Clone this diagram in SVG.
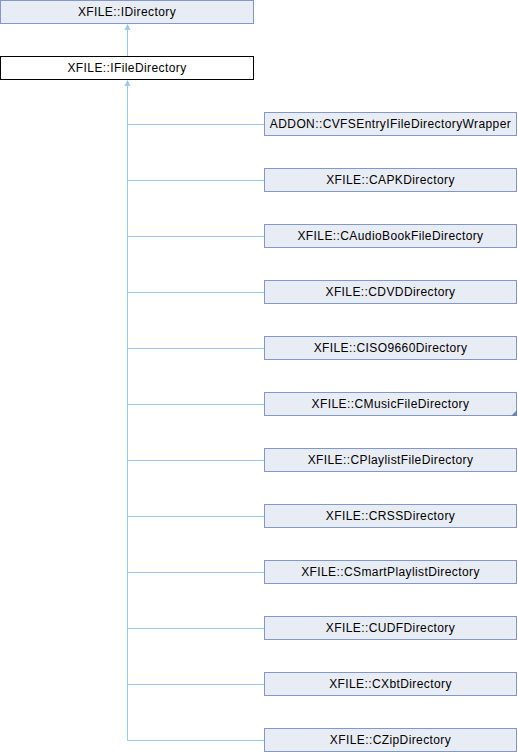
<svg xmlns="http://www.w3.org/2000/svg" width="518" height="752" viewBox="0 0 518 752">
<style>
.n rect{fill:#E8ECF5;stroke:#8398C6;stroke-width:1}
.cur rect{fill:#FFFFFF;stroke:#000000;stroke-width:1}
text{font-family:"Liberation Sans",Arial,sans-serif;font-size:12px;letter-spacing:0.4px;fill:#000;text-anchor:middle}
.e{stroke:#9BCAE8;stroke-width:1;fill:none}
.ah{fill:#9BCAE8}
</style>
<rect width="518" height="752" fill="#fff"/>
<g id="connectors">
<path class="e" d="M127.5 29V56"/>
<polygon class="ah" points="127.5,24 124.5,30 130.5,30"/>
<path class="e" d="M127.5 85V740.5H264"/>
<polygon class="ah" points="127.5,80 124.5,86 130.5,86"/>
<path class="e" d="M127.5 124.5H264M127.5 180.5H264M127.5 236.5H264M127.5 292.5H264M127.5 348.5H264M127.5 404.5H264M127.5 460.5H264M127.5 516.5H264M127.5 572.5H264M127.5 628.5H264M127.5 684.5H264"/>
</g>
<g id="IDirectory" class="n"><rect x="0.5" y="0.5" width="253" height="23"/><text x="127" y="16">XFILE::IDirectory</text></g>
<g id="IFileDirectory" class="cur"><rect x="0.5" y="56.5" width="253" height="23"/><text x="127" y="72">XFILE::IFileDirectory</text></g>
<g id="CVFSEntryIFileDirectoryWrapper" class="n"><rect x="264.5" y="112.5" width="252" height="23"/><text x="390.5" y="128">ADDON::CVFSEntryIFileDirectoryWrapper</text></g>
<g id="CAPKDirectory" class="n"><rect x="264.5" y="168.5" width="252" height="23"/><text x="390.5" y="184">XFILE::CAPKDirectory</text></g>
<g id="CAudioBookFileDirectory" class="n"><rect x="264.5" y="224.5" width="252" height="23"/><text x="390.5" y="240">XFILE::CAudioBookFileDirectory</text></g>
<g id="CDVDDirectory" class="n"><rect x="264.5" y="280.5" width="252" height="23"/><text x="390.5" y="296">XFILE::CDVDDirectory</text></g>
<g id="CISO9660Directory" class="n"><rect x="264.5" y="336.5" width="252" height="23"/><text x="390.5" y="352">XFILE::CISO9660Directory</text></g>
<g id="CMusicFileDirectory" class="n"><rect x="264.5" y="392.5" width="252" height="23"/><polygon points="517,410 517,416 511,416" fill="#6A84BE"/><text x="390.5" y="408">XFILE::CMusicFileDirectory</text></g>
<g id="CPlaylistFileDirectory" class="n"><rect x="264.5" y="448.5" width="252" height="23"/><text x="390.5" y="464">XFILE::CPlaylistFileDirectory</text></g>
<g id="CRSSDirectory" class="n"><rect x="264.5" y="504.5" width="252" height="23"/><text x="390.5" y="520">XFILE::CRSSDirectory</text></g>
<g id="CSmartPlaylistDirectory" class="n"><rect x="264.5" y="560.5" width="252" height="23"/><text x="390.5" y="576">XFILE::CSmartPlaylistDirectory</text></g>
<g id="CUDFDirectory" class="n"><rect x="264.5" y="616.5" width="252" height="23"/><text x="390.5" y="632">XFILE::CUDFDirectory</text></g>
<g id="CXbtDirectory" class="n"><rect x="264.5" y="672.5" width="252" height="23"/><text x="390.5" y="688">XFILE::CXbtDirectory</text></g>
<g id="CZipDirectory" class="n"><rect x="264.5" y="728.5" width="252" height="23"/><text x="390.5" y="744">XFILE::CZipDirectory</text></g>
</svg>
